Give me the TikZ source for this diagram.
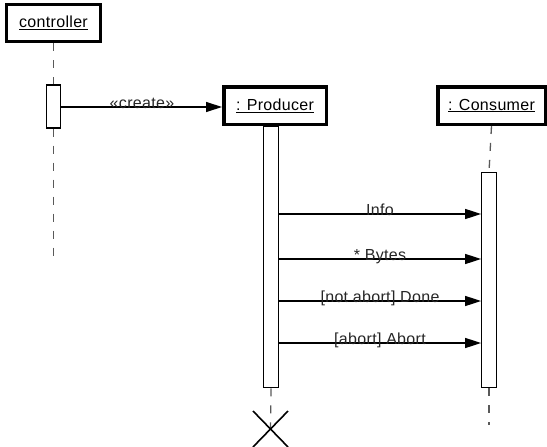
\documentclass[tikz,border=0pt]{standalone}
\usepackage{fontspec}
\setmainfont[LetterSpace=2]{Liberation Sans}
\usetikzlibrary{arrows.meta,calc}
\begin{document}
\begin{tikzpicture}[x=1pt,y=-1pt,
  objbox/.style={draw=black, line width=3.5pt, fill=white, inner sep=0pt,
    font=\fontsize{16}{18}\selectfont},
  actbox/.style={draw=black, line width=1.3pt, fill=white, inner sep=0pt, minimum width=14.5pt},
  lifeline/.style={draw=black!65, line width=1.3pt, dash pattern=on 8pt off 9pt},
  msg/.style={draw=black, line width=1.3pt, -{Triangle[length=16pt,width=10pt]}},
  msglabel/.style={anchor=base, inner sep=0pt, font=\fontsize{16}{18}\selectfont, text=black!85},
  destroy/.style={draw=black, line width=1.6pt}]
\useasboundingbox (0,0) rectangle (547,447);
\coordinate (cend) at (53.5,257);
\coordinate (xc) at (270.5,429);
\coordinate (kend) at (489,425);
% objects
\node[objbox, minimum width=94pt, minimum height=37pt] (ctrl) at (53.5,23) {\underline{controller}};
\node[objbox, minimum width=102.5pt, minimum height=37.5pt] (prod) at (275,105.5) {\underline{: Producer}};
\node[objbox, minimum width=107.5pt, minimum height=37.5pt] (cons) at (491.5,105.5) {\underline{: Consumer}};
% activations
\node[actbox, minimum height=43pt] (cact) at (53.5,106.5) {};
\node[actbox, minimum height=261pt, anchor=north] (pact) at (271,126) {};
\node[actbox, minimum height=215pt, anchor=north] (kact) at (489,172) {};
\draw[lifeline] (ctrl.south) -- (cact.north);
\draw[lifeline] (cact.south) -- (cend);
\draw[lifeline] (pact.south) -- (xc);
\draw[lifeline] (cons.south) -- (kact.north);
\draw[lifeline] (kact.south) -- (kend);
% redraw activations on top of lifelines
\node[actbox, minimum height=43pt] at (cact) {};
\node[actbox, minimum height=261pt] at (pact) {};
\node[actbox, minimum height=215pt] at (kact) {};
% destruction mark
\draw[destroy] ($(xc)+(-17.5,-18)$) -- ($(xc)+(17.5,18)$);
\draw[destroy] ($(xc)+(-17.5,18)$) -- ($(xc)+(17.5,-18)$);
% messages
\draw[msg] (cact.east |- 0,107) -- (prod.west |- 0,107);
\node[msglabel] (l0) at (142,108) {«create»};
\draw[msg] (pact.east |- 0,214) -- (kact.west |- 0,214);
\node[msglabel] (l1) at (380,215) {Info};
\draw[msg] (pact.east |- 0,259) -- (kact.west |- 0,259);
\node[msglabel] (l2) at (380,260) {* Bytes};
\draw[msg] (pact.east |- 0,301) -- (kact.west |- 0,301);
\node[msglabel] (l3) at (380,302) {[not abort] Done};
\draw[msg] (pact.east |- 0,343) -- (kact.west |- 0,343);
\node[msglabel] (l4) at (380,344) {[abort] Abort};
\end{tikzpicture}
\end{document}
